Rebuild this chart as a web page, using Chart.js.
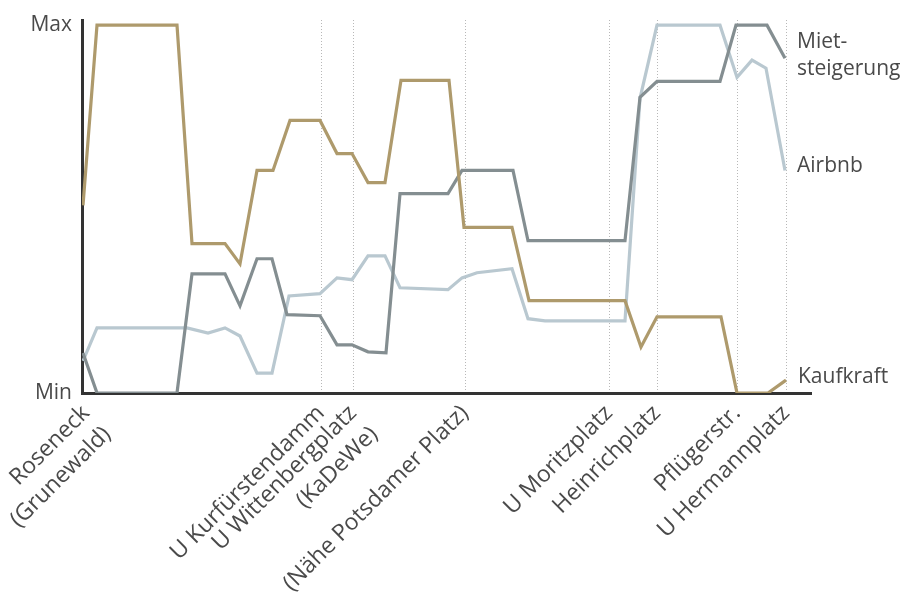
<!DOCTYPE html>
<html>
<head>
<meta charset="utf-8">
<script src="https://cdn.jsdelivr.net/npm/chart.js@4.4.1/dist/chart.umd.min.js"></script>
<style>
    body { margin: 0; background: #fff; }
</style>
</head>
<body>
<canvas id="routeChart" width="912" height="599"></canvas>
<script>
// Stationen entlang der Route (x = Position auf der Strecke)
const stationPos = [4, 239, 271, 383, 527, 575, 655, 704];
const stationLabels = [['Roseneck', '(Grunewald)'], 'U Kurfürstendamm', ['U Wittenbergplatz', '(KaDeWe)'],
    '(Nähe Potsdamer Platz)', 'U Moritzplatz', 'Heinrichplatz', 'Pflügerstr.', 'U Hermannplatz'];

// Kaufkraft (0 = Min, 100 = Max)
const kaufkraftX = [1, 15, 95, 110, 143, 158, 175, 191, 208, 238, 255, 270, 286, 303, 319, 367, 382, 430, 447, 543,
    559, 575, 639, 655, 686, 704];
const kaufkraftY = [51, 100, 100, 40.6, 40.6, 35.1, 60.5, 60.5, 74.1, 74.1, 65.1, 65.1, 57.2, 57.2, 85, 85, 45, 45,
    25.1, 25.1, 12.5, 20.7, 20.7, 0, 0, 3.5];

// Mietsteigerung
const mieteX = [1, 15, 95, 110, 143, 158, 175, 190, 205, 238, 255, 270, 286, 304, 318, 366, 380, 431, 446, 543, 558,
    575, 638, 654, 685, 703];
const mieteY = [10.9, 0, 0, 32.4, 32.4, 23.7, 36.5, 36.5, 21.3, 21, 13.1, 13.1, 11.2, 10.9, 54.2, 54.2, 60.5, 60.5,
    41.4, 41.4, 80.4, 84.7, 84.7, 100, 100, 91];

// Airbnb
const airbnbX = [1, 15, 105, 126, 143, 158, 175, 190, 207, 238, 255, 270, 286, 303, 318, 366, 380, 395, 430, 446, 463,
    543, 558, 575, 638, 655, 670, 684, 703];
const airbnbY = [8.7, 17.7, 17.7, 16.3, 17.7, 15.5, 5.4, 5.4, 26.4, 27, 31.3, 30.8, 37.3, 37.3, 28.6, 28.1, 31.3,
    32.7, 33.8, 20.2, 19.6, 19.6, 80.1, 100, 100, 85.8, 90.5, 88.3, 60.5];

const textColor = '#4a4a4a';
const fontFamily = '"Open Sans", sans-serif';

function toPoints(xs, ys) {
    return xs.map((x, i) => ({x: x, y: ys[i]}));
}

const endLabels = {
    id: 'endLabels',
    afterDatasetsDraw(chart) {
        const ctx = chart.ctx;
        ctx.save();
        ctx.font = '21px ' + fontFamily;
        ctx.fillStyle = textColor;
        ctx.textBaseline = 'middle';
        ctx.textAlign = 'left';
        chart.data.datasets.forEach((ds, i) => {
            const points = chart.getDatasetMeta(i).data;
            const last = points[points.length - 1];
            const lineHeight = 27;
            const y = last.y + ds.labelShift - (ds.endLabel.length - 1) * lineHeight / 2;
            ds.endLabel.forEach((t, k) => ctx.fillText(t, last.x + 12, y + k * lineHeight));
        });
        ctx.restore();
    }
};

const ctx = document.getElementById('routeChart').getContext('2d');

new Chart(ctx, {
    type: 'line',
    data: {
        datasets: [{
            label: 'Kaufkraft',
            data: toPoints(kaufkraftX, kaufkraftY),
            borderColor: '#ae9a6c',
            endLabel: ['Kaufkraft'],
            labelShift: -3
        }, {
            label: 'Mietsteigerung',
            data: toPoints(mieteX, mieteY),
            borderColor: '#848e91',
            endLabel: ['Miet-', 'steigerung'],
            labelShift: -3
        }, {
            label: 'Airbnb',
            data: toPoints(airbnbX, airbnbY),
            borderColor: '#b9c8d0',
            endLabel: ['Airbnb'],
            labelShift: -4
        }]
    },
    options: {
        responsive: false,
        animation: false,
        layout: {
            padding: {top: 20, right: 101, left: 0, bottom: 0}
        },
        elements: {
            line: {borderWidth: 3.2, tension: 0, fill: false},
            point: {radius: 0}
        },
        plugins: {
            legend: {display: false},
            tooltip: {enabled: false}
        },
        scales: {
            x: {
                type: 'linear',
                min: 0,
                max: 729,
                afterBuildTicks: (scale) => {
                    scale.ticks = stationPos.map(v => ({value: v}));
                },
                afterFit: (scale) => {
                    scale.height = 206;
                    scale.paddingLeft = 0;
                    scale.paddingRight = 0;
                },
                ticks: {
                    autoSkip: false,
                    minRotation: 45,
                    maxRotation: 45,
                    padding: 6,
                    color: textColor,
                    font: {family: fontFamily, size: 23, lineHeight: 1.3},
                    callback: (value, index) => stationLabels[index]
                },
                grid: {
                    drawTicks: false,
                    lineWidth: 1,
                    color: (c) => (c.tick && c.tick.value === stationPos[0]) ? 'rgba(0,0,0,0)' : '#b8b8b8'
                },
                border: {color: '#333', width: 3, dash: [1, 2]}
            },
            y: {
                min: 0,
                max: 101.4,
                afterBuildTicks: (scale) => {
                    scale.ticks = [{value: 0}, {value: 100}];
                },
                afterFit: (scale) => {
                    scale.width = 82;
                    scale.paddingTop = 0;
                    scale.paddingBottom = 0;
                },
                ticks: {
                    padding: 10,
                    color: textColor,
                    font: {family: fontFamily, size: 21},
                    callback: (value) => value === 100 ? 'Max' : 'Min'
                },
                grid: {display: false, drawTicks: false},
                border: {color: '#333', width: 3}
            }
        }
    },
    plugins: [endLabels]
});
</script>
</body>
</html>
